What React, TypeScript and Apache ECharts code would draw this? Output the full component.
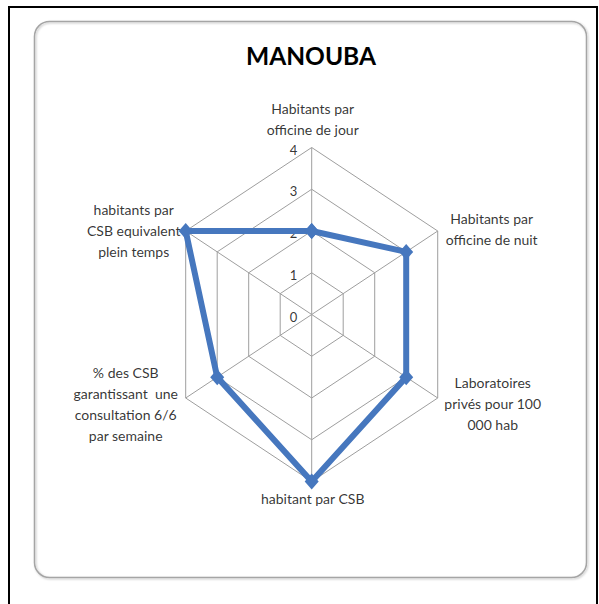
import React, { useEffect, useRef } from "react";
import * as echarts from "echarts";

// ---- data ----
const chartTitle = "MANOUBA";
const indicatorNames = [
  "Habitants par\nofficine de jour",
  "Habitants par\nofficine de nuit",
  "Laboratoires\nprivés pour 100\n000 hab",
  "habitant par CSB",
  "% des CSB\ngarantissant  une\nconsultation 6/6\npar semaine",
  "habitants par\nCSB equivalent\nplein temps",
];
const seriesValues = [2, 3, 3, 4, 3, 4];
const ringValues = [1, 2, 3, 4];
const tickLabels = [0, 1, 2, 3, 4];
const axisMax = 4;

// ---- layout (not data) ----
const labelOffsets: [number, number][] = [
  [1, -29],
  [54, -2],
  [55, 5],
  [1, 17],
  [-60, 6],
  [-52, -1],
];

const FONT = "Lato, 'Noto Sans', sans-serif";
const N = indicatorNames.length;
const project = (v: number, i: number): [number, number] => {
  const a = (2 * Math.PI * i) / N;
  return [v * Math.sin(a), v * Math.cos(a)];
};

export default function App() {
  const ref = useRef<HTMLDivElement>(null);
  useEffect(() => {
    if (!ref.current) return;
    const chart = echarts.init(ref.current, undefined, { renderer: "svg" });

    const ringCoords = ringValues.map((r) => ({
      coords: [...indicatorNames.map((_, i) => project(r, i)), project(r, 0)],
    }));
    const spokeCoords = indicatorNames.map((_, i) => ({
      coords: [project(0, i), project(axisMax, i)],
    }));
    const dataPoints = [...seriesValues, seriesValues[0]].map((v, i) => project(v, i % N));
    const labelPoints = indicatorNames.map((name, i) => ({
      name,
      value: project(axisMax, i),
      label: { offset: labelOffsets[i] },
    }));
    const tickPoints = tickLabels.map((t) => ({ name: String(t), value: project(t, 0) }));

    chart.setOption({
      animation: false,
      backgroundColor: "#fff",
      graphic: [
        {
          type: "rect",
          z: -10,
          shape: { x: 9, y: 7, width: 588, height: 640 },
          style: { fill: "none", stroke: "#000", lineWidth: 2 },
        },
        {
          type: "rect",
          z: -10,
          shape: { x: 34.5, y: 21.5, width: 552, height: 556, r: 15 },
          style: {
            fill: "none",
            stroke: "#A5A5A5",
            lineWidth: 1.5,
            shadowBlur: 2,
            shadowOffsetX: 1,
            shadowOffsetY: 1,
            shadowColor: "rgba(0,0,0,0.25)",
          },
        },
        {
          type: "text",
          x: 311,
          y: 55,
          style: {
            text: chartTitle,
            fontFamily: FONT,
            fontWeight: "bold",
            fontSize: 24.5,
            fill: "#000",
            textAlign: "center",
            textVerticalAlign: "middle",
          },
        },
      ],
      grid: { left: 166.2, top: 147.5, width: 291, height: 334 },
      xAxis: { type: "value", min: -axisMax, max: axisMax, show: false },
      yAxis: { type: "value", min: -axisMax, max: axisMax, show: false },
      series: [
        {
          type: "lines",
          coordinateSystem: "cartesian2d",
          polyline: true,
          silent: true,
          z: 1,
          lineStyle: { color: "#9E9E9E", width: 1, opacity: 1 },
          data: [...ringCoords, ...spokeCoords],
        },
        {
          type: "scatter",
          symbolSize: 1,
          silent: true,
          z: 2,
          itemStyle: { color: "rgba(0,0,0,0)" },
          label: {
            show: true,
            position: "inside",
            formatter: "{b}",
            color: "#000",
            fontFamily: FONT,
            fontSize: 13,
            align: "right",
            verticalAlign: "middle",
            offset: [-14.5, 2],
          },
          data: tickPoints,
        },
        {
          type: "scatter",
          symbolSize: 1,
          silent: true,
          z: 2,
          itemStyle: { color: "rgba(0,0,0,0)" },
          label: {
            show: true,
            position: "inside",
            formatter: "{b}",
            color: "#000",
            fontFamily: FONT,
            fontSize: 14,
            lineHeight: 21,
            align: "center",
            verticalAlign: "middle",
          },
          data: labelPoints,
        },
        {
          type: "line",
          z: 5,
          symbol: "diamond",
          symbolSize: [14, 16],
          lineStyle: { color: "#4677BE", width: 6 },
          itemStyle: { color: "#4677BE" },
          data: dataPoints,
        },
      ],
    });
    return () => chart.dispose();
  }, []);
  return (
    <div
      ref={ref}
      style={{ position: "absolute", left: 0, top: 0, width: 599, height: 604 }}
    />
  );
}
